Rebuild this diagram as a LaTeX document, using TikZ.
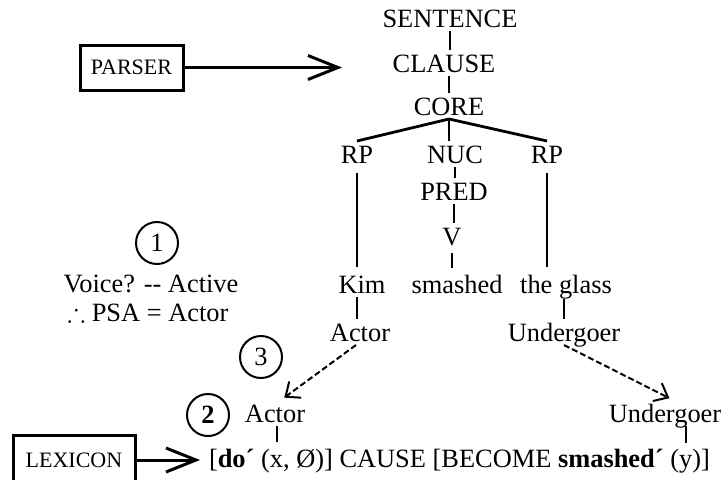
\documentclass[tikz,border=0pt]{standalone}
\usepackage{amssymb}
\usepackage{fontspec}
\setmainfont{Liberation Serif}
\usetikzlibrary{arrows.meta}
\begin{document}
\begin{tikzpicture}[x=0.5pt,y=-0.5pt,
  every node/.style={font=\fontsize{13.2}{15}\selectfont},
  tx/.style={inner sep=0pt, outer sep=2pt, text height=9pt, text depth=0pt, anchor=base},
  branch/.style={line width=1.4pt},
  boxed/.style={draw, line width=1.5pt, inner sep=0pt, font=\fontsize{11}{12}\selectfont},
  ring/.style={draw, circle, line width=1pt, minimum size=21pt, inner sep=0pt},
  bigarrow/.style={line width=1.5pt, -{Straight Barb[length=15pt,width=12pt,line width=1.5pt]}},
  dasharrow/.style={line width=1pt, dash pattern=on 3pt off 1.5pt, -{Straight Barb[length=6pt,width=10pt,line width=1pt]}}
]
\useasboundingbox (0,0) rectangle (722,479);

% tree
\node[tx] (s) at (450,27) {SENTENCE};
\node[tx] (c) at (444,72) {CLAUSE};
\node[tx] (co) at (449,115) {CORE};
\node[tx] (rp1) at (357,163) {RP};
\node[tx] (nuc) at (455,163) {NUC};
\node[tx] (rp2) at (547,163) {RP};
\node[tx] (pred) at (454,200) {PRED};
\node[tx] (v) at (452,245) {V};
\node[tx] (kim) at (362,293) {Kim};
\node[tx] (sm) at (457,293) {smashed};
\node[tx] (gl) at (566,293) {the glass};
\node[tx] (actU) at (360,341) {Actor};
\node[tx] (undU) at (564,341) {Undergoer};
\node[tx] (actL) at (275,422) {Actor};
\node[tx] (undL) at (665,422) {Undergoer};
\node[tx, anchor=base west] (formula) at (205,467)
  {[\textbf{do´} (x, Ø)] CAUSE [BECOME \textbf{smashed´} (y)]};
\coordinate (ytick) at (686,443);

\node[tx] (voice) at (151,292) {Voice? -{}- Active};
\node[tx] (psa) at (148,321) {$\therefore$ PSA = Actor};

\node[ring] (c1) at (157,243) {1};
\node[ring] (c3) at (261,357) {3};
\node[ring] (c2) at (208,415) {\textbf{2}};

\node[boxed, minimum width=51.5pt, minimum height=22.5pt] (parser) at (131.5,67.5) {PARSER};
\coordinate (ptip) at (342,67.5);
\node[boxed, minimum width=61pt, minimum height=25pt] (lex) at (74,460) {LEXICON};

% connectors
\draw[branch] (s.south) -- (s.south |- c.north);
\draw[branch] (co.north |- c.south) -- (co.north);
\draw[branch] (co.south) -- (rp1.north);
\draw[branch] (co.south) -- (co.south |- nuc.north);
\draw[branch] (co.south) -- (rp2.north);
\draw[branch, shorten <=3pt, shorten >=2pt] (rp1.south) -- (rp1.south |- kim.north);
\draw[branch] (nuc.south) -- (nuc.south |- pred.north);
\draw[branch] (pred.south) -- (pred.south |- v.north);
\draw[branch, shorten <=2pt, shorten >=1.5pt] (v.south) -- (v.south |- sm.north);
\draw[branch, shorten <=3pt, shorten >=2pt] (rp2.south) -- (rp2.south |- gl.north);
\draw[branch] (rp1.south |- kim.south) -- (rp1.south |- actU.north);
\draw[branch, shorten <=1pt] (undU.north |- gl.south) -- (undU.north);
\draw[branch, shorten >=1.5pt] ([xshift=1pt]actL.south) -- ([xshift=1pt]actL.south |- formula.north);
\draw[branch] (undL.south -| ytick) -- (ytick);

\draw[dasharrow, shorten >=2pt] ([xshift=-2pt]actU.south) -- ([xshift=3pt]actL.north);
\draw[dasharrow, shorten >=2pt] (undU.south) -- ([xshift=4pt]undL.north);

\draw[bigarrow] (parser.east) -- (ptip);
\draw[bigarrow, shorten >=2.5pt] (lex.east) -- (lex.east -| formula.west);
\end{tikzpicture}
\end{document}
